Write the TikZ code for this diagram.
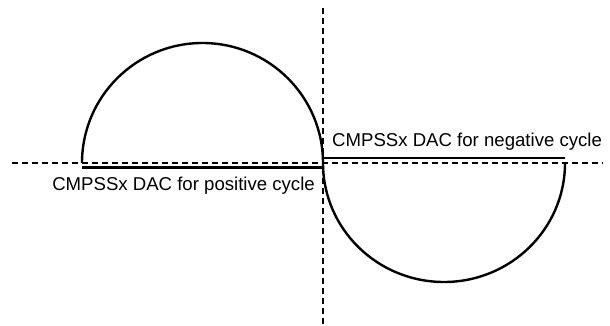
\documentclass[tikz,border=0pt]{standalone}
\usepackage{fontspec}
\setmainfont{Liberation Sans}
\begin{document}
\begin{tikzpicture}[x=1pt,y=-1pt,
  axis/.style={line width=1.3pt,dash pattern=on 6pt off 4pt},
  wave/.style={line width=2.4pt},
  level/.style={line width=2.4pt},
  lbl/.style={font=\fontsize{18.6}{22}\selectfont,inner sep=0pt}]
\useasboundingbox (0,0) rectangle (610,326);
% axes
\coordinate (xl) at (12,163);
\coordinate (xr) at (603,163);
\coordinate (yt) at (323,8);
\coordinate (yb) at (323,326);
\draw[axis] (xl) -- (xr);
\draw[axis] (yt) -- (yb);
% half cycles
\coordinate (p0) at (82,163);
\coordinate (p1) at (323,163);
\coordinate (n1) at (565,163);
\draw[wave] (p0) arc[start angle=180,end angle=0,x radius=120.5,y radius=-120];
\draw[wave] (p1) arc[start angle=180,end angle=360,x radius=121,y radius=-119];
% comparator DAC levels
\coordinate (pl) at (82,167.5);
\coordinate (pr) at (323,167.5);
\coordinate (nl) at (323,158);
\coordinate (nr) at (565,158);
\draw[level] (pl) -- (pr);
\draw[level] (nl) -- (nr);
% labels
\node[lbl,anchor=base east] (poslbl) at (315,190.5) {CMPSSx DAC for positive cycle};
\node[lbl,anchor=base west] (neglbl) at (332,146.5) {CMPSSx DAC for negative cycle};
\end{tikzpicture}
\end{document}
